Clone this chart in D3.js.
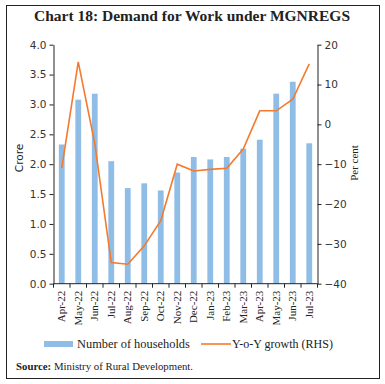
<!DOCTYPE html>
<html><head><meta charset="utf-8">
<script src="https://cdn.jsdelivr.net/npm/d3@7"></script>
<style>body{margin:0;background:#fff}svg{display:block}</style>
</head><body>
<svg id="c" width="385" height="384"></svg>
<script>
const categories = ["Apr-22","May-22","Jun-22","Jul-22","Aug-22","Sep-22","Oct-22","Nov-22","Dec-22","Jan-23","Feb-23","Mar-23","Apr-23","May-23","Jun-23","Jul-23"];
const households = [2.33,3.08,3.18,2.05,1.60,1.68,1.56,1.86,2.12,2.08,2.12,2.26,2.41,3.18,3.38,2.35];
const yoyGrowth = [-11.0,15.7,-4.8,-34.7,-35.1,-30.5,-24.2,-10.0,-11.7,-11.3,-11.0,-6.2,3.4,3.4,6.3,15.2];
const leftTicks = [0,0.5,1,1.5,2,2.5,3,3.5,4];
const rightTicks = [-40,-30,-20,-10,0,10,20];

const svg = d3.select("#c");
const serif = "'Liberation Serif','DejaVu Serif',serif";
const sans = "'DejaVu Sans',sans-serif";
const barColor = "#8fbde6", lineColor = "#f37a2e";

svg.append("rect").attr("x",6.5).attr("y",5.5).attr("width",373).attr("height",373)
  .attr("fill","none").attr("stroke","#222").attr("stroke-width",1);

svg.append("text").attr("x",192).attr("y",21).attr("text-anchor","middle")
  .attr("font-family",serif).attr("font-weight","bold").attr("font-size",15.5)
  .attr("fill","#222").text("Chart 18: Demand for Work under MGNREGS");

const L = 53.5, R = 317.5, T = 44.7, B = 283.7;
const x = d3.scaleBand().domain(categories).range([L,R]);
const yL = d3.scaleLinear().domain([0,4]).range([B,T]);
const yR = d3.scaleLinear().domain([-40,20]).range([B,T]);

const bw = 5.8;
svg.append("g").selectAll("rect").data(categories).join("rect")
  .attr("x",d=>x(d)+x.bandwidth()/2-bw/2)
  .attr("y",(d,i)=>yL(households[i]))
  .attr("width",bw)
  .attr("height",(d,i)=>yL(0)-yL(households[i]))
  .attr("fill",barColor);

const line = d3.line().x((d,i)=>x(categories[i])+x.bandwidth()/2).y(d=>yR(d));
svg.append("path").datum(yoyGrowth).attr("d",line).attr("fill","none")
  .attr("stroke",lineColor).attr("stroke-width",1.6);

const gL = svg.append("g").attr("transform",`translate(${L},0)`)
  .call(d3.axisLeft(yL).tickValues(leftTicks).tickFormat(d3.format(".1f")).tickSize(4).tickSizeOuter(0));
const gR = svg.append("g").attr("transform",`translate(${R},0)`)
  .call(d3.axisRight(yR).tickValues(rightTicks).tickFormat(d3.format("d")).tickSize(4).tickSizeOuter(0));
[gL,gR].forEach(g=>{
  g.selectAll("text").attr("font-family",sans).attr("font-size",10.5).attr("fill","#333");
  g.selectAll("line,path").attr("stroke","#222");
});
gL.selectAll("text").attr("x",-7);
gR.selectAll("text").attr("x",7);

// x axis
const gX = svg.append("g").attr("transform",`translate(0,${B})`);
gX.append("line").attr("x1",L).attr("x2",R).attr("stroke","#222");
gX.selectAll("line.t").data(d3.range(categories.length+1)).join("line").attr("class","t")
  .attr("x1",i=>L+i*x.step()).attr("x2",i=>L+i*x.step()).attr("y1",0).attr("y2",4).attr("stroke","#222");
gX.selectAll("text").data(categories).join("text")
  .attr("transform",d=>`translate(${x(d)+x.bandwidth()/2+3.5},7) rotate(-90)`)
  .attr("text-anchor","end").attr("font-family",serif).attr("font-size",11).attr("fill","#222")
  .text(d=>d);

svg.append("text").attr("transform","translate(23,158) rotate(-90)").attr("text-anchor","middle")
  .attr("font-family",sans).attr("font-size",10.5).attr("fill","#222").text("Crore");
svg.append("text").attr("transform","translate(358,163) rotate(-90)").attr("text-anchor","middle")
  .attr("font-family",serif).attr("font-size",11).attr("fill","#222").text("Per cent");

// legend
const lg = svg.append("g");
lg.append("rect").attr("x",44).attr("y",341).attr("width",29).attr("height",6).attr("fill",barColor);
lg.append("text").attr("x",77).attr("y",348).attr("font-family",serif).attr("font-size",12.4).attr("fill","#222").text("Number of households");
lg.append("line").attr("x1",201).attr("x2",231).attr("y1",344).attr("y2",344).attr("stroke",lineColor).attr("stroke-width",1.6);
lg.append("text").attr("x",232).attr("y",348).attr("font-family",serif).attr("font-size",12).attr("fill","#222").text("Y-o-Y growth (RHS)");

const src = svg.append("text").attr("x",16).attr("y",370).attr("font-family",serif).attr("font-size",10.8).attr("fill","#222");
src.append("tspan").attr("font-weight","bold").text("Source:");
src.append("tspan").text(" Ministry of Rural Development.");
</script>
</body></html>
